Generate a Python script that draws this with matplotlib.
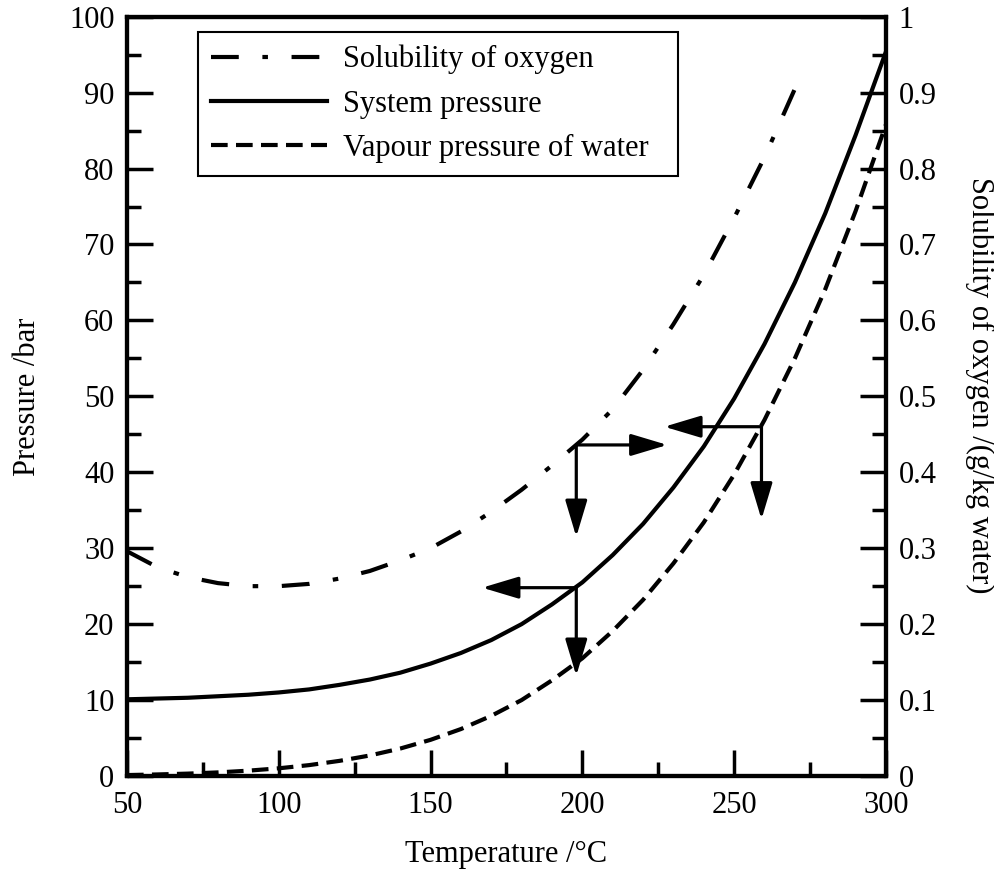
import matplotlib
matplotlib.use("Agg")
import matplotlib.pyplot as plt
from matplotlib.ticker import MultipleLocator, FixedLocator, FixedFormatter

plt.rcParams['font.family'] = ['Liberation Serif', 'DejaVu Serif']
plt.rcParams['lines.scale_dashes'] = False

# temperature grid (deg C)
temp = [50, 60, 70, 80, 90, 100, 110, 120, 130, 140, 150, 160, 170, 180, 190,
        200, 210, 220, 230, 240, 250, 260, 270, 280, 290, 300]
# vapour pressure of water (bar)
vapour = [0.12, 0.20, 0.31, 0.47, 0.70, 1.01, 1.43, 1.99, 2.70, 3.61, 4.76,
          6.18, 7.92, 10.0, 12.6, 15.5, 19.1, 23.2, 28.0, 33.4, 39.7, 46.9,
          55.0, 64.1, 74.4, 85.8]
# system pressure (bar)
system = [10.1, 10.2, 10.3, 10.5, 10.7, 11.0, 11.4, 12.0, 12.7, 13.6, 14.8,
          16.2, 17.9, 20.0, 22.6, 25.5, 29.1, 33.2, 38.0, 43.4, 49.7, 56.9,
          65.0, 74.1, 84.4, 95.4]
# solubility of oxygen (g/kg water), only up to 270 C
temp_sol = temp[:23]
solub = [0.296, 0.275, 0.262, 0.254, 0.250, 0.250, 0.253, 0.260, 0.270, 0.284,
         0.300, 0.322, 0.348, 0.377, 0.409, 0.443, 0.483, 0.535, 0.595, 0.660,
         0.735, 0.815, 0.905]

# reading arrows: (start T, start P) -> (end T, end P), in pressure units
arrows = [
    ((198, 43.6), (228, 43.6)),
    ((198, 43.6), (198, 31.5)),
    ((259, 46.0), (227, 46.0)),
    ((259, 46.0), (259, 33.8)),
    ((198, 24.8), (167, 24.8)),
    ((198, 24.8), (198, 13.2)),
]

right_ticks = [0, 0.1, 0.2, 0.3, 0.4, 0.5, 0.6, 0.7, 0.8, 0.9, 1]
right_labels = ['0', '0.1', '0.2', '0.3', '0.4', '0.5', '0.6', '0.7', '0.8', '0.9', '1']

fs = 22
fig = plt.figure(figsize=(9.95, 8.71), dpi=100)
ax = fig.add_axes([0.1276, 0.1091, 0.7628, 0.8717])
ax2 = ax.twinx()

ax.plot(temp_sol, [s * 100 for s in solub], color='k', lw=3.0,
        ls=(0, (20, 17, 4, 17)), label='Solubility of oxygen')
ax.plot(temp, system, color='k', lw=3.0, label='System pressure')
ax.plot(temp, vapour, color='k', lw=3.0, ls=(0, (12, 6)),
        label='Vapour pressure of water')

for (x0, y0), (x1, y1) in arrows:
    ax.annotate('', xy=(x1, y1), xytext=(x0, y0),
                arrowprops=dict(arrowstyle='-|>,head_length=1.6,head_width=0.48',
                                lw=2.3, color='k', mutation_scale=14,
                                shrinkA=0, shrinkB=0))

ax.set_xlim(50, 300)
ax.set_ylim(0, 100)
ax2.set_ylim(0, 1)

ax.xaxis.set_major_locator(MultipleLocator(50))
ax.xaxis.set_minor_locator(MultipleLocator(25))
ax.yaxis.set_major_locator(MultipleLocator(10))
ax.yaxis.set_minor_locator(MultipleLocator(5))
ax2.yaxis.set_major_locator(FixedLocator(right_ticks))
ax2.yaxis.set_major_formatter(FixedFormatter(right_labels))
ax2.yaxis.set_minor_locator(MultipleLocator(0.05))

for a in (ax, ax2):
    a.tick_params(which='major', direction='in', length=19, width=2.5,
                  labelsize=fs, pad=9)
    a.tick_params(which='minor', direction='in', length=10, width=2.5)
    for sp in a.spines.values():
        sp.set_linewidth(3)
ax.tick_params(which='both', top=False, right=False)
ax.tick_params(axis='x', which='major', pad=11)

ax.set_xlabel('Temperature /°C', fontsize=fs)
ax.set_ylabel('Pressure /bar', fontsize=fs)
ax2.set_ylabel('Solubility of oxygen /(g/kg water)', fontsize=fs, rotation=-90,
               va='center')
ax.xaxis.set_label_coords(0.5, -0.084)
ax.yaxis.set_label_coords(-0.112, 0.5)
ax2.yaxis.set_label_coords(1.124, 0.515)

leg = ax.legend(loc='upper left', bbox_to_anchor=(0.0935, 0.794, 0.6325, 0.186),
                mode='expand', fontsize=fs, handlelength=3.8, handletextpad=0.52,
                labelspacing=0.5, borderpad=0.42, borderaxespad=0,
                fancybox=False, framealpha=1, edgecolor='k')
leg.get_frame().set_linewidth(1.5)

fig.savefig('out.png', dpi=100)
